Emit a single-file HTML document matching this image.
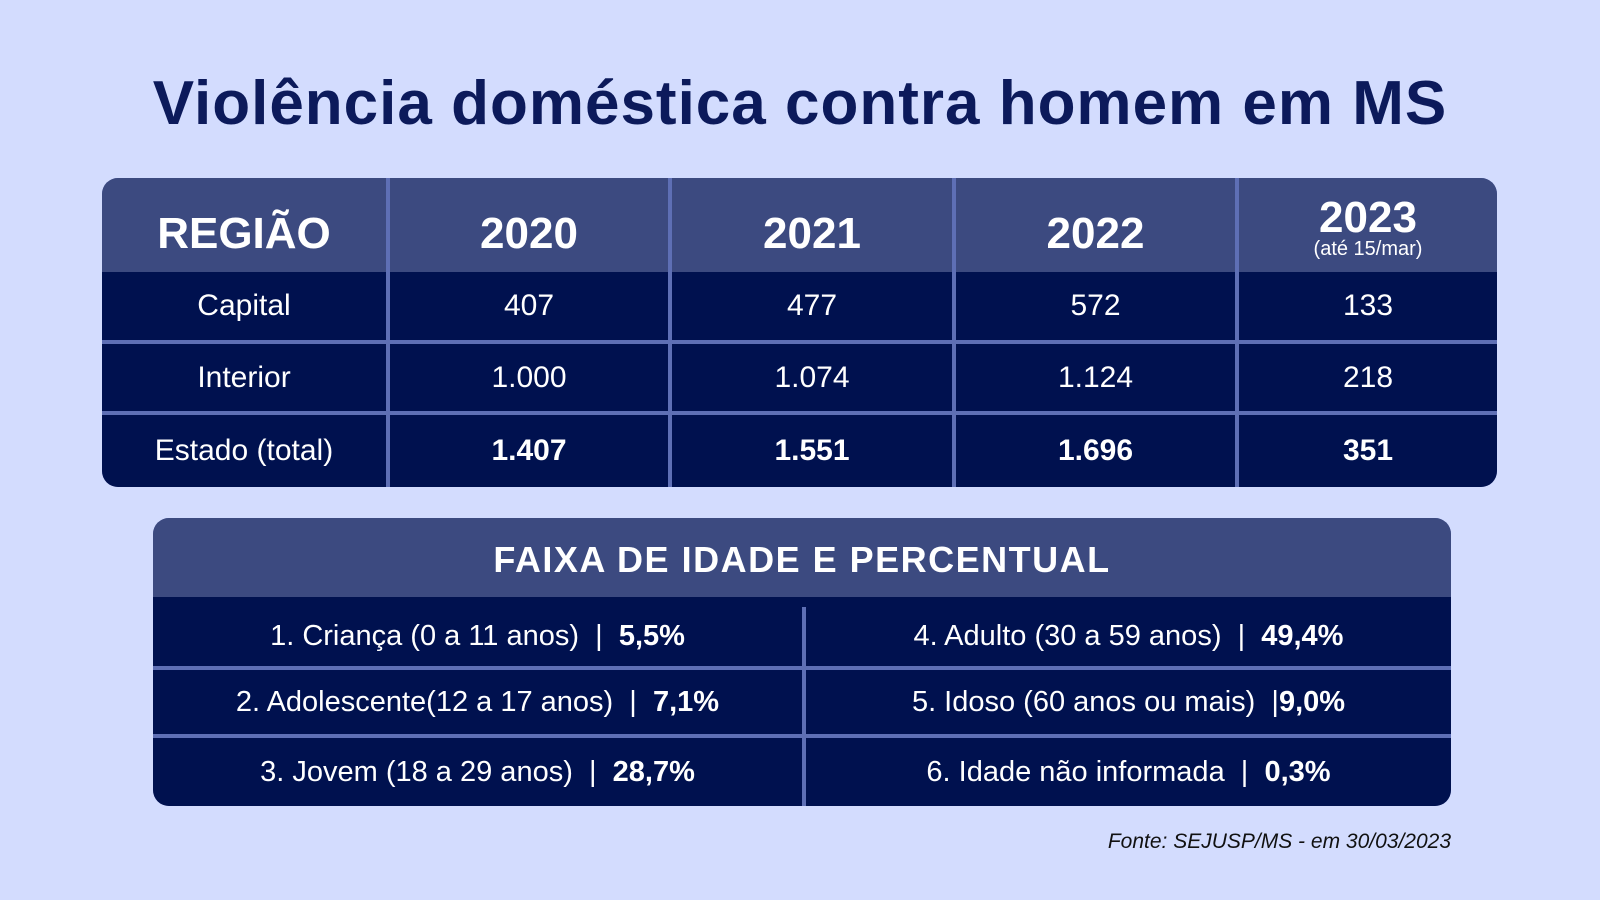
<!DOCTYPE html>
<html><head><meta charset="utf-8"><style>
body{margin:0;width:1600px;height:900px;background:#d3dcfe;font-family:"Liberation Sans",sans-serif;position:relative;overflow:hidden}
.t{position:absolute;left:0;width:1600px;top:68px;text-align:center;font-size:62px;font-weight:bold;color:#0c1a5b;letter-spacing:1px}
.box{position:absolute;border-radius:16px;overflow:hidden;background:#5e6fb5}
.c{position:absolute;display:flex;align-items:center;justify-content:center;color:#fff;flex-direction:column}
.h{background:#3c4a80;font-weight:bold}
.r{background:#00114f}
.f{position:absolute;right:149px;top:830px;font-style:italic;font-size:21px;color:#111}
</style></head><body>
<div class="t">Violência doméstica contra homem em MS</div>
<div class="box" style="left:102px;top:178px;width:1395px;height:309px">
<div id="g"></div>
</div>
<div class="box" style="left:153px;top:518px;width:1298px;height:288px;background:#5e6fb5">
<div class="c h" style="left:0;top:0;width:1298px;height:79px;padding-top:4px;box-sizing:border-box;font-size:36px;letter-spacing:1.5px">FAIXA DE IDADE E PERCENTUAL</div>
<div class="c r" style="left:0;top:79px;width:1298px;height:10px"></div>
<div class="c r" style="left:0;top:89px;width:649px;height:59px;font-size:29px;display:block;text-align:center;line-height:59px">1. Criança (0 a 11 anos) &nbsp;| &nbsp;<b>5,5%</b></div>
<div class="c r" style="left:653px;top:89px;width:645px;height:59px;font-size:29px;display:block;text-align:center;line-height:59px">4. Adulto (30 a 59 anos) &nbsp;| &nbsp;<b>49,4%</b></div>
<div class="c r" style="left:0;top:152px;width:649px;height:64px;font-size:29px;display:block;text-align:center;line-height:64px">2. Adolescente(12 a 17 anos) &nbsp;| &nbsp;<b>7,1%</b></div>
<div class="c r" style="left:653px;top:152px;width:645px;height:64px;font-size:29px;display:block;text-align:center;line-height:64px">5. Idoso (60 anos ou mais) &nbsp;|<b>9,0%</b></div>
<div class="c r" style="left:0;top:220px;width:649px;height:68px;font-size:29px;display:block;text-align:center;line-height:68px">3. Jovem (18 a 29 anos) &nbsp;| &nbsp;<b>28,7%</b></div>
<div class="c r" style="left:653px;top:220px;width:645px;height:68px;font-size:29px;display:block;text-align:center;line-height:68px">6. Idade não informada &nbsp;| &nbsp;<b>0,3%</b></div>
</div>
<div class="f">Fonte: SEJUSP/MS - em 30/03/2023</div>
<script>
var xs=[0,286,568,852,1135,1395],ys=[0,94,164,235,309];
var d=[["REGIÃO","2020","2021","2022","2023"],["Capital","407","477","572","133"],["Interior","1.000","1.074","1.124","218"],["Estado (total)","1.407","1.551","1.696","351"]];
var g=document.getElementById('g'),h='';
for(var r=0;r<4;r++)for(var c=0;c<5;c++){
var l=xs[c]+(c?2:0),w=xs[c+1]-l-(c<4?2:0),t=ys[r]+(r>1?2:0),hh=ys[r+1]-t-(r>0&&r<3?2:0);
var txt=d[r][c],fs=r==0?44:30,b=(r==0||(r==3&&c>0))?'font-weight:bold;':'';
var pad=r==0?(c==4?'padding-top:4px;box-sizing:border-box;':'padding-top:18px;box-sizing:border-box;'):'';
if(r==0&&c==4)txt='2023<span style="font-size:20px;font-weight:normal;line-height:18px">(até 15/mar)</span>';
h+='<div class="c '+(r==0?'h':'r')+'" style="left:'+l+'px;top:'+t+'px;width:'+w+'px;height:'+hh+'px;font-size:'+fs+'px;'+b+pad+'line-height:1">'+txt+'</div>';}
g.innerHTML=h;
</script>
</body></html>
